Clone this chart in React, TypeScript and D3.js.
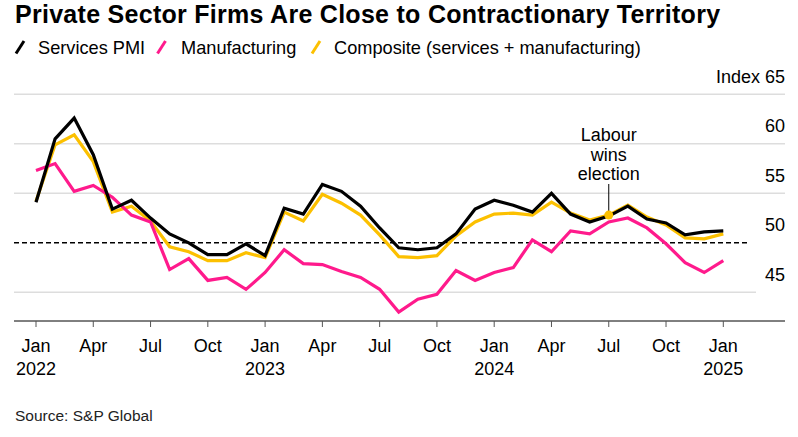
import React from "react";
import * as d3 from "d3";

const services = [54.1, 60.5, 62.6, 58.9, 53.4, 54.3, 52.5, 50.9, 50.0, 48.8, 48.8, 49.9, 48.7, 53.5, 52.9, 55.9, 55.2, 53.7, 51.5, 49.5, 49.3, 49.5, 50.9, 53.4, 54.3, 53.8, 53.1, 55.0, 52.9, 52.1, 52.7, 53.7, 52.4, 52.0, 50.8, 51.1, 51.2];
const manufacturing = [57.3, 58.0, 55.2, 55.8, 54.6, 52.8, 52.1, 47.3, 48.4, 46.2, 46.5, 45.3, 47.0, 49.3, 47.9, 47.8, 47.1, 46.5, 45.3, 43.0, 44.3, 44.8, 47.2, 46.2, 47.0, 47.5, 50.3, 49.1, 51.2, 50.9, 52.1, 52.5, 51.5, 49.9, 48.0, 47.0, 48.2];
const composite = [54.2, 59.9, 60.9, 58.2, 53.1, 53.7, 52.2, 49.6, 49.1, 48.2, 48.2, 49.0, 48.5, 53.1, 52.2, 54.9, 54.0, 52.8, 50.8, 48.6, 48.5, 48.7, 50.7, 52.1, 52.9, 53.0, 52.8, 54.1, 53.0, 52.3, 52.8, 53.8, 52.6, 51.8, 50.5, 50.4, 50.9];

const tickIndex = [0, 3, 6, 9, 12, 15, 18, 21, 24, 27, 30, 33, 36];
const tickMonth = ["Jan", "Apr", "Jul", "Oct", "Jan", "Apr", "Jul", "Oct", "Jan", "Apr", "Jul", "Oct", "Jan"];
const tickYear = ["2022", "", "", "", "2023", "", "", "", "2024", "", "", "", "2025"];
const yTicks = [45, 50, 55, 60, 65];
const annotationIndex = 30;
const annotationLines = ["Labour", "wins", "election"];

const BLACK = "#000000";
const PINK = "#ff1a8c";
const YELLOW = "#fcc000";
const FONT = "'Liberation Sans', Arial, Helvetica, sans-serif";

export default function App() {
  const W = 798, H = 437;
  const x = d3.scaleLinear().domain([0, 36]).range([36, 723.3]);
  const y = d3.scaleLinear().domain([45, 65]).range([292.3, 94.3]);
  const line = d3.line<number>().x((_, i) => x(i)).y((d) => y(d));

  const series = [
    { data: composite, color: YELLOW },
    { data: manufacturing, color: PINK },
    { data: services, color: BLACK },
  ];

  const legend = [
    { label: "Services PMI", color: BLACK, x0: 16, tx: 38 },
    { label: "Manufacturing", color: PINK, x0: 157.5, tx: 181 },
    { label: "Composite (services + manufacturing)", color: YELLOW, x0: 312, tx: 334 },
  ];

  const ax = x(annotationIndex);
  const ay = y(composite[annotationIndex]);

  return (
    <div style={{ position: "absolute", left: 0, top: 0 }}>
      <svg width={W} height={H} style={{ display: "block", background: "#fff" }} fontFamily={FONT}>
        <text x={15} y={23} fontSize={25} fontWeight="bold" letterSpacing={0.28} fill="#000">
          Private Sector Firms Are Close to Contractionary Territory
        </text>
        {legend.map((l) => (
          <g key={l.label}>
            <line x1={l.x0} y1={53.5} x2={l.x0 + 8} y2={41} stroke={l.color} strokeWidth={3} />
            <text x={l.tx} y={54} fontSize={18.2} fill="#000">{l.label}</text>
          </g>
        ))}

        {yTicks.filter((t) => t !== 50).map((t) => (
          <line key={t} x1={14} x2={t === 45 ? 756 : 785} y1={y(t)} y2={y(t)} stroke="#dddddd" strokeWidth={1.5} />
        ))}
        <line x1={14} x2={747} y1={y(50)} y2={y(50)} stroke="#000" strokeWidth={1.5} strokeDasharray="5,3" />
        {yTicks.map((t) => (
          <text key={t} x={785} y={y(t) - 11.5} fontSize={18} textAnchor="end" fill="#000">
            {t === 65 ? "Index 65" : t}
          </text>
        ))}

        <line x1={14} x2={785} y1={321} y2={321} stroke="#000" strokeWidth={1} />
        {tickIndex.map((ti, k) => (
          <g key={ti}>
            <line x1={x(ti)} x2={x(ti)} y1={321} y2={327} stroke="#555" strokeWidth={1} />
            <text x={x(ti)} y={352} fontSize={18} textAnchor="middle" fill="#000">{tickMonth[k]}</text>
            {tickYear[k] && (
              <text x={x(ti)} y={375} fontSize={18} textAnchor="middle" fill="#000">{tickYear[k]}</text>
            )}
          </g>
        ))}

        {series.map((s, k) => (
          <path key={k} d={line(s.data) || ""} fill="none" stroke={s.color} strokeWidth={3.2} strokeLinejoin="miter" />
        ))}

        <line x1={ax} x2={ax} y1={184} y2={ay} stroke="#000" strokeWidth={1} />
        <circle cx={ax} cy={ay} r={4.5} fill={YELLOW} />
        {annotationLines.map((t, k) => (
          <text key={t} x={ax} y={141 + k * 19.5} fontSize={18} textAnchor="middle" fill="#000">{t}</text>
        ))}

        <text x={15} y={421} fontSize={15.5} fill="#222">Source: S&amp;P Global</text>
      </svg>
    </div>
  );
}
